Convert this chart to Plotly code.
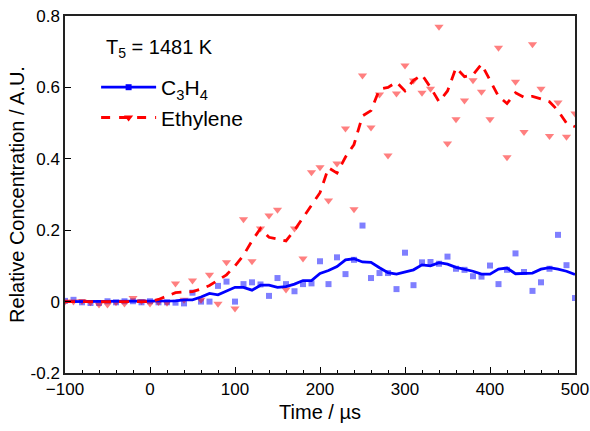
import plotly.graph_objects as go

time_us = list(range(-100, 501, 10))

c3h4_points = [0.002, 0.005, -0.002, -0.004, -0.004, 0.001, -0.002, 0.001, 0.001, -0.002,
               0.001, -0.002, -0.002, -0.003, -0.005, 0.025, 0.0, 0.0, 0.044, 0.056,
               0.0, 0.049, 0.054, 0.048, 0.016, 0.066, 0.049, 0.029, 0.049, 0.051,
               0.113, 0.049, 0.124, 0.077, 0.117, 0.213, 0.066, 0.080, 0.080, 0.035,
               0.137, 0.046, 0.110, 0.111, 0.106, 0.126, 0.092, 0.089, 0.071, 0.070,
               0.101, 0.049, 0.089, 0.135, 0.083, 0.030, 0.054, 0.092, 0.187, 0.102,
               0.010]

c3h4_smooth = [0.0, 0.0, 0.0, 0.0, 0.0, 0.0, 0.0, 0.0, 0.0, 0.0,
               0.0, 0.001, 0.001, 0.002, 0.005, 0.005, 0.013, 0.023, 0.019, 0.029,
               0.040, 0.040, 0.032, 0.046, 0.046, 0.040, 0.042, 0.049, 0.059, 0.059,
               0.079, 0.087, 0.098, 0.117, 0.120, 0.111, 0.110, 0.095, 0.081, 0.077,
               0.082, 0.089, 0.103, 0.100, 0.109, 0.105, 0.096, 0.091, 0.085, 0.077,
               0.077, 0.091, 0.094, 0.078, 0.079, 0.080, 0.091, 0.095, 0.091, 0.085,
               0.076]

ethylene_points = [0.0, 0.0, 0.002, -0.002, -0.008, -0.008, -0.002, -0.005, 0.010, 0.002,
                   -0.005, -0.001, -0.003, 0.051, 0.005, 0.059, 0.005, 0.075, -0.006, 0.110,
                   -0.019, 0.231, 0.113, 0.205, 0.241, 0.257, 0.034, 0.205, 0.121, 0.362,
                   0.376, 0.283, 0.387, 0.485, 0.259, 0.633, 0.488, 0.580, 0.409, 0.583,
                   0.661, 0.619, 0.585, 0.596, 0.770, 0.443, 0.511, 0.563, 0.620, 0.588,
                   0.511, 0.711, 0.404, 0.616, 0.475, 0.721, 0.596, 0.464, 0.558, 0.462,
                   0.527]

ethylene_smooth = [0.0, 0.0, 0.0, 0.0, 0.0, 0.0, 0.0, 0.0, 0.0, 0.0,
                   0.0, 0.006, 0.015, 0.025, 0.027, 0.028, 0.035, 0.045, 0.060, 0.075,
                   0.100, 0.130, 0.170, 0.205, 0.180, 0.175, 0.170, 0.200, 0.235, 0.270,
                   0.305, 0.375, 0.360, 0.405, 0.440, 0.520, 0.535, 0.595, 0.600, 0.615,
                   0.590, 0.620, 0.635, 0.600, 0.560, 0.590, 0.655, 0.630, 0.635, 0.665,
                   0.620, 0.575, 0.555, 0.585, 0.572, 0.575, 0.568, 0.560, 0.535, 0.500,
                   0.490]

x_tick_vals = [-100, 0, 100, 200, 300, 400, 500]
y_tick_vals = [-0.2, 0, 0.2, 0.4, 0.6, 0.8]
y_tick_text = ["-0.2", "0", "0.2", "0.4", "0.6", "0.8"]

BLUE = "#0000ff"
RED = "#ff0000"
FONT = "Liberation Sans, Arial, sans-serif"

fig = go.Figure()

fig.add_trace(go.Scatter(x=time_us, y=c3h4_points, mode="markers",
                         marker=dict(symbol="square", size=6, color="rgba(0,0,255,0.5)"),
                         showlegend=False))
fig.add_trace(go.Scatter(x=time_us, y=ethylene_points, mode="markers",
                         marker=dict(symbol="triangle-down", size=8, color="rgba(255,0,0,0.5)"),
                         showlegend=False))
fig.add_trace(go.Scatter(x=time_us, y=c3h4_smooth, mode="lines",
                         line=dict(color=BLUE, width=2.8), showlegend=False))
fig.add_trace(go.Scatter(x=time_us, y=ethylene_smooth, mode="lines",
                         line=dict(color=RED, width=2.8, dash="10px,8px"), showlegend=False))

# legend entries
fig.add_trace(go.Scatter(x=[None], y=[None], mode="lines+markers", name="C<sub>3</sub>H<sub>4</sub>",
                         line=dict(color=BLUE, width=2.8),
                         marker=dict(symbol="square", size=6, color=BLUE)))
fig.add_trace(go.Scatter(x=[None], y=[None], mode="lines+markers", name="Ethylene",
                         line=dict(color=RED, width=2.8, dash="9px,9px"),
                         marker=dict(symbol="triangle-down", size=8, color=RED)))

fig.update_layout(
    width=590, height=431,
    margin=dict(l=65, r=15, t=16, b=58),
    plot_bgcolor="white", paper_bgcolor="white",
    font=dict(family=FONT, size=16, color="black"),
    legend=dict(x=0.061, y=0.857, xanchor="left", yanchor="top",
                bgcolor="rgba(0,0,0,0)", font=dict(size=21, family=FONT),
                itemwidth=55, tracegroupgap=0),
    annotations=[dict(text="T<sub>5</sub> = 1481 K", x=0.076, y=0.908, xref="paper", yref="paper",
                      xanchor="left", yanchor="middle", showarrow=False,
                      font=dict(size=20, family=FONT))],
)

fig.update_xaxes(range=[-100, 500], tickvals=x_tick_vals, ticks="inside", ticklen=6,
                 tickwidth=1.2, tickcolor="black", automargin=False,
                 minor=dict(dtick=20, tick0=-100, ticks="inside", ticklen=3, tickcolor="black"),
                 showline=True, linecolor="#222", linewidth=1.5, mirror=True,
                 showgrid=False, zeroline=False,
                 title=dict(text="Time / µs", font=dict(size=20), standoff=7),
                 tickfont=dict(size=17))
fig.update_yaxes(range=[-0.2, 0.8], tickvals=y_tick_vals, ticktext=y_tick_text,
                 ticks="inside", ticklen=6, tickwidth=1.2, tickcolor="black", automargin=False,
                 showline=True, linecolor="#222", linewidth=1.5, mirror=True,
                 showgrid=False, zeroline=False,
                 title=dict(text="Relative Concentration / A.U.", font=dict(size=20), standoff=1),
                 tickfont=dict(size=17))

fig.write_html("out.html", config={"displayModeBar": False},
               post_script="document.body.style.margin='0';document.body.style.padding='0';"
                           "document.documentElement.style.overflow='hidden';")
